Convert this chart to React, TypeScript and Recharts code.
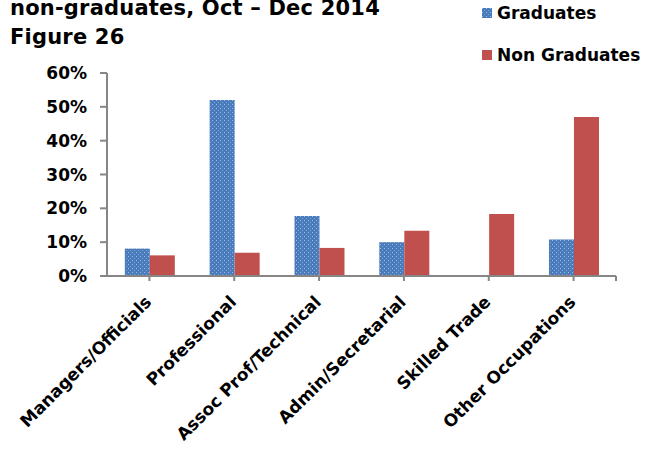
import React from 'react';
import { BarChart, Bar, XAxis, YAxis, usePlotArea } from 'recharts';

const categories = [
  'Managers/Officials',
  'Professional',
  'Assoc Prof/Technical',
  'Admin/Secretarial',
  'Skilled Trade',
  'Other Occupations',
];
const graduates = [8.1, 52.0, 17.7, 10.0, 0, 10.8];
const nonGraduates = [6.1, 6.9, 8.3, 13.4, 18.3, 47.0];
const yTicks = [0, 10, 20, 30, 40, 50, 60];

const FONT = '"DejaVu Sans", sans-serif';
const AXIS = '#868686';
const RED = '#c0504d';

const data = categories.map((name, i) => ({
  name,
  graduates: graduates[i],
  nonGraduates: nonGraduates[i],
}));

const XTick = (props: any) => {
  const { x, y, payload } = props;
  return (
    <g transform={`translate(${x + 3},${y + 20})`}>
      <text
        x={0}
        y={0}
        textAnchor="end"
        transform="rotate(-45)"
        fontFamily={FONT}
        fontWeight="bold"
        fontSize={17}
        fill="#000"
      >
        {payload.value}
      </text>
    </g>
  );
};

// small tick at the right end of the category axis, like the original
const AxisEnd = () => {
  const area = usePlotArea();
  if (!area) return null;
  const xr = area.x + area.width;
  const yb = area.y + area.height;
  return <line x1={xr} y1={yb} x2={xr} y2={yb + 5} stroke={AXIS} strokeWidth={2} />;
};

const legendItems = [
  { label: 'Graduates', fill: 'url(#gradDotsLegend)' },
  { label: 'Non Graduates', fill: RED },
];

const Dots = ({ id }: { id: string }) => (
  <pattern id={id} width="4" height="4" patternUnits="userSpaceOnUse">
    <rect width="4" height="4" fill="#4a7cbc" />
    <rect x="0" y="0" width="1" height="1" fill="#9dbbe4" />
    <rect x="2" y="2" width="1" height="1" fill="#7fa4d8" />
  </pattern>
);

export default function App() {
  return (
    <div style={{ position: 'absolute', left: 0, top: 0, width: 654, height: 452, background: '#fff', overflow: 'hidden' }}>
      <div
        style={{
          position: 'absolute',
          left: 10,
          top: -6,
          fontFamily: FONT,
          fontWeight: 'bold',
          fontSize: 21,
          letterSpacing: 0.2,
          lineHeight: '29px',
          color: '#000',
          whiteSpace: 'nowrap',
        }}
      >
        <div>non-graduates, Oct – Dec 2014</div>
        <div>Figure 26</div>
      </div>
      <div
        style={{
          position: 'absolute',
          left: 482,
          top: 3,
          fontFamily: FONT,
          fontWeight: 'bold',
          fontSize: 17,
          color: '#000',
          zIndex: 2,
        }}
      >
        {legendItems.map((item, i) => (
          <div key={item.label} style={{ display: 'flex', alignItems: 'center', height: 20, marginBottom: i === 0 ? 22 : 0 }}>
            <svg width={10} height={10} style={{ marginRight: 5 }}>
              <defs>
                <Dots id="gradDotsLegend" />
              </defs>
              <rect width={10} height={10} fill={item.fill} />
            </svg>
            <span>{item.label}</span>
          </div>
        ))}
      </div>
      <BarChart
        width={654}
        height={452}
        data={data}
        margin={{ top: 73, right: 38, left: 0, bottom: 0 }}
        barCategoryGap="21%"
        barGap={0}
      >
        <defs>
          <Dots id="gradDots" />
        </defs>
        <XAxis
          dataKey="name"
          interval={0}
          height={176}
          tickSize={5}
          axisLine={{ stroke: AXIS, strokeWidth: 2 }}
          tickLine={{ stroke: AXIS, strokeWidth: 2 }}
          tick={<XTick />}
        />
        <YAxis
          width={107}
          domain={[0, 60]}
          ticks={yTicks}
          interval={0}
          tickSize={7}
          tickMargin={13}
          tickFormatter={(v: number) => `${v}%`}
          axisLine={{ stroke: AXIS, strokeWidth: 2 }}
          tickLine={{ stroke: AXIS, strokeWidth: 2 }}
          tick={{ fontFamily: FONT, fontWeight: 'bold', fontSize: 17, fill: '#000' }}
        />
        <Bar dataKey="graduates" name="Graduates" fill="url(#gradDots)" isAnimationActive={false} />
        <Bar dataKey="nonGraduates" name="Non Graduates" fill={RED} isAnimationActive={false} />
        <AxisEnd />
      </BarChart>
    </div>
  );
}
